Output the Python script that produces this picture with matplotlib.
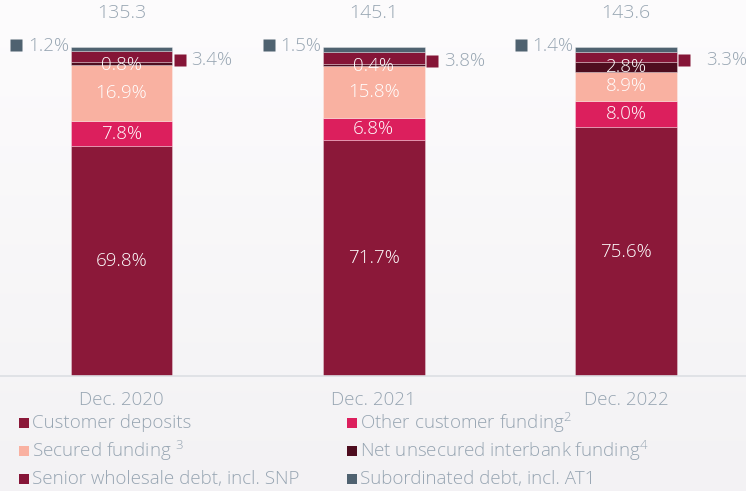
import matplotlib
matplotlib.use("Agg")
import matplotlib.pyplot as plt
import numpy as np
from matplotlib.patches import Rectangle

plt.rcParams['font.family'] = ['Open Sans', 'DejaVu Sans']
plt.rcParams['font.weight'] = 300
plt.rcParams['mathtext.fontset'] = 'custom'
plt.rcParams['mathtext.rm'] = 'Open Sans'

# --- data -------------------------------------------------------------
periods = ["Dec. 2020", "Dec. 2021", "Dec. 2022"]
totals = [135.3, 145.1, 143.6]
customer_deposits = [69.8, 71.7, 75.6]
other_customer_funding = [7.8, 6.8, 8.0]
secured_funding = [16.9, 15.8, 8.9]
net_unsecured_interbank = [0.8, 0.4, 2.8]
senior_wholesale = [3.4, 3.8, 3.3]
subordinated = [1.2, 1.5, 1.4]

legend_labels = [
    "Customer deposits",
    "Other customer funding$^{2}$",
    "Secured funding $^{3}$",
    "Net unsecured interbank funding$^{4}$",
    "Senior wholesale debt, incl. SNP",
    "Subordinated debt, incl. AT1",
]

# --- style ------------------------------------------------------------
C_DEP = "#8b1839"
C_OTH = "#dc1f5d"
C_SEC = "#f9b1a1"
C_NET = "#4e0d1f"
C_SEN = "#851537"
C_SUB = "#4f6270"
TXT = "#97a5b2"
BG = "#f7f6f7"
FS = 13.5

W, H = 746, 491
fig = plt.figure(figsize=(W / 100, H / 100), dpi=100, facecolor=BG)

# soft vertical background shading
bg_ax = fig.add_axes([0, 0, 1, 1], zorder=-10)
grad = np.linspace(0, 1, 256).reshape(-1, 1)
top_c = np.array([0.992, 0.988, 0.992])
bot_c = np.array([0.953, 0.949, 0.957])
img = top_c + (bot_c - top_c) * grad[..., None]
bg_ax.imshow(img, aspect="auto", extent=[0, 1, 0, 1], origin="upper")
bg_ax.set_axis_off()

ax = fig.add_axes([0, (H - 376) / H, 1, (376 - 47) / H])
ax.patch.set_alpha(0)
ax.set_xlim(-0.4817, 2.4757)
ax.set_ylim(0, 100)

x = list(range(len(periods)))
bw = 0.404
series = [customer_deposits, other_customer_funding, secured_funding,
          net_unsecured_interbank, senior_wholesale, subordinated]
colors = [C_DEP, C_OTH, C_SEC, C_NET, C_SEN, C_SUB]

bottoms = [0.0] * len(periods)
seg_pos = []
for vals, col in zip(series, colors):
    ax.bar(x, vals, bw, bottom=bottoms, color=col, edgecolor=(1, 1, 1, 0.35),
           linewidth=0.6)
    seg_pos.append([(b, v) for b, v in zip(bottoms, vals)])
    bottoms = [b + v for b, v in zip(bottoms, vals)]

# labels inside the bars (first four segments)
for k in range(4):
    for i in x:
        b, v = seg_pos[k][i]
        yc = b + v / 2
        if k == 3 and v < 1:
            yc = b + v / 2 - 0.4
        ax.text(i, yc, f"{v:.1f}%", ha="center", va="center",
                color="white", fontsize=FS)

# outside labels: subordinated (left), senior wholesale (right)
for i in x:
    left = i - bw / 2
    right = i + bw / 2
    b, v = seg_pos[5][i]
    ax.plot(left - 0.215, 100.6, marker="s", ms=8, color=C_SUB,
            clip_on=False, mec="none")
    ax.text(left - 0.17, 100.3, f"{v:.1f}%", ha="left", va="center",
            color=TXT, fontsize=FS, clip_on=False)
    b, v = seg_pos[4][i]
    ys = b + v / 2 - 0.8
    ax.plot(right + 0.028, ys, marker="s", ms=8, color=C_SEN,
            clip_on=False, mec="none")
    ax.text(right + 0.075 + (0.04 if i == 2 else 0), ys, f"{v:.1f}%",
            ha="left", va="center", color=TXT, fontsize=FS, clip_on=False)

# totals above bars
for i, t in zip(x, totals):
    ax.text(i, 110.3, f"{t:.1f}", ha="center", va="center", color=TXT,
            fontsize=14, clip_on=False)

# axes cosmetics
for s in ["top", "left", "right"]:
    ax.spines[s].set_visible(False)
ax.spines["bottom"].set_color("#dcdfe3")
ax.spines["bottom"].set_linewidth(1.2)
ax.set_yticks([])
ax.set_xticks(x)
ax.set_xticklabels(periods, color=TXT, fontsize=FS)
ax.tick_params(axis="x", length=0, pad=11)

# legend (2 columns, 3 rows)
col_x = [19, 347]
row_y = [423, 451, 479]
for idx, (lab, col) in enumerate(zip(legend_labels, colors)):
    r, c = divmod(idx, 2)
    px, py = col_x[c], row_y[r]
    fig.patches.append(Rectangle((px / W, (H - py - 5) / H), 10 / W, 10 / H,
                                 transform=fig.transFigure, color=col,
                                 lw=0))
    fig.text((px + 13) / W, (H - py) / H, lab, ha="left", va="center",
             color=TXT, fontsize=FS)

fig.savefig("out.png", dpi=100, facecolor=BG)
